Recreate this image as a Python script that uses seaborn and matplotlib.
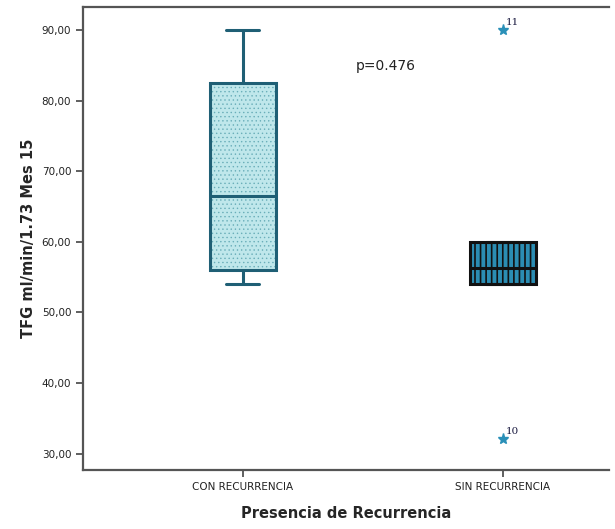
import matplotlib
matplotlib.use("Agg")
import matplotlib.pyplot as plt
from matplotlib.patches import PathPatch
from matplotlib.ticker import FuncFormatter
import seaborn as sns
import pandas as pd

# data (values per case)
con_recurrencia = [54.0, 56.0, 66.5, 82.5, 90.0]
sin_recurrencia = [32.0, 54.0, 54.0, 56.3, 60.0, 60.0, 90.0]
categorias = ["CON RECURRENCIA", "SIN RECURRENCIA"]
outlier_vals = [90.0, 32.0]
outlier_ids = ["11", "10"]
p_text = "p=0.476"

df = pd.DataFrame({
    "grupo": [categorias[0]] * len(con_recurrencia) + [categorias[1]] * len(sin_recurrencia),
    "tfg": con_recurrencia + sin_recurrencia,
})

sns.set_style("white")
plt.rcParams["font.family"] = ["DejaVu Sans"]

fills = ["#bfe7eb", "#2b8db3"]
edges = ["#1f5f75", "#111111"]
hatch_cols = ["#6aaeb9", "#111111"]
hatches = ["....", "|||"]
hatch_lw = [0.5, 1.2]

fig = plt.figure(figsize=(6.15, 5.29), dpi=100)
ax = fig.add_axes([0.135, 0.1106, 0.855, 0.876])

sns.boxplot(data=df, x="grupo", y="tfg", hue="grupo", order=categorias,
            palette=fills, legend=False, width=0.255, linewidth=2,
            whis=1.5, saturation=1, ax=ax,
            flierprops=dict(marker="*", markersize=8, markerfacecolor="#2a90b8",
                            markeredgecolor="#2a90b8"))

# box fill with hatch in its own colour, then a solid outline on top
for i, patch in enumerate(list(ax.patches)):
    patch.set_hatch(hatches[i])
    patch.set_edgecolor(hatch_cols[i])
    patch.set_linewidth(0)
    if hasattr(patch, "set_hatch_linewidth"):
        patch.set_hatch_linewidth(hatch_lw[i])
    outline = PathPatch(patch.get_path(), transform=patch.get_transform(),
                        fill=False, edgecolor=edges[i], linewidth=2.2, zorder=patch.get_zorder() + 0.5)
    ax.add_patch(outline)

for line in ax.lines:
    xs = line.get_xdata()
    if len(xs) == 0:
        continue
    g = int(round(sum(xs) / len(xs)))
    if line.get_marker() not in ("None", None, ""):
        continue
    line.set_color(edges[g])
    line.set_linewidth(2.2)
    line.set_zorder(5)

# case id labels next to the starred outliers
for val, lab in zip(outlier_vals, outlier_ids):
    ax.annotate(lab, xy=(1, val), xytext=(2, 4), textcoords="offset points",
                fontsize=7.5, color="#1a1a40", fontfamily="DejaVu Serif")

ax.text(0.55, 84.9, p_text, fontsize=10, ha="center", va="center", color="#222222")

ax.set_xlim(-0.615, 1.408)
ax.set_ylim(27.6, 93.3)
ax.set_yticks([30, 40, 50, 60, 70, 80, 90])
ax.yaxis.set_major_formatter(FuncFormatter(lambda v, _: f"{v:.2f}".replace(".", ",")))

ax.set_xlabel("Presencia de Recurrencia", fontsize=10.5, fontweight="bold", labelpad=10)
ax.set_ylabel("TFG ml/min/1.73 Mes 15", fontsize=10.5, fontweight="bold", labelpad=4)

for side in ["left", "bottom", "top"]:
    ax.spines[side].set_color("#555555")
    ax.spines[side].set_linewidth(1.6)
ax.spines["right"].set_visible(False)
ax.tick_params(axis="both", direction="out", length=5, width=1.2, color="#444444",
               labelsize=7.5, labelcolor="#222222", left=True, bottom=True)

fig.savefig("out.png", dpi=100)
